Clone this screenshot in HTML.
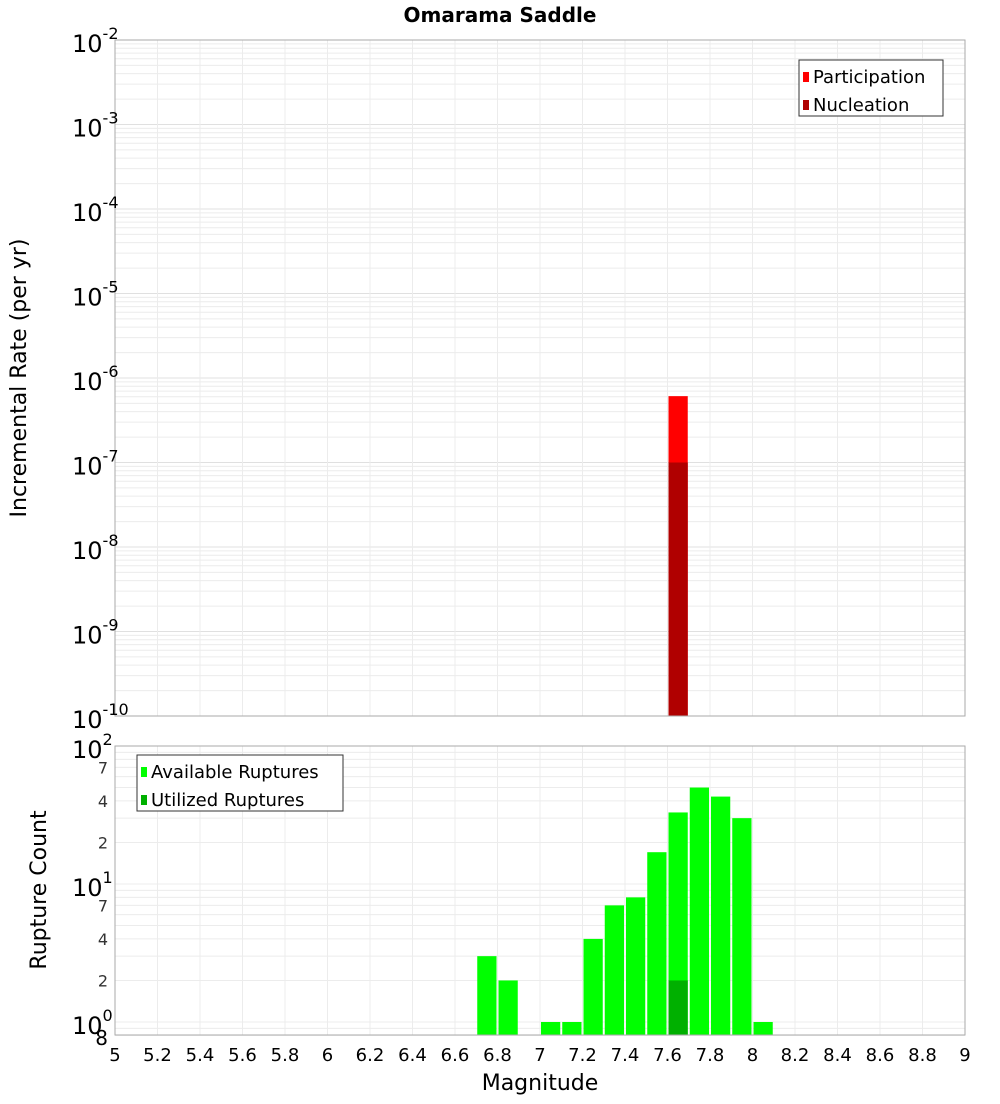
<!DOCTYPE html>
<html><head><meta charset="utf-8"><style>
body{margin:0;background:#fff;width:1000px;height:1100px;overflow:hidden;font-family:"DejaVu Sans","Liberation Sans",sans-serif}
</style></head><body>
<svg id="chart" width="1000" height="1100" xmlns="http://www.w3.org/2000/svg" font-family="DejaVu Sans, Liberation Sans, sans-serif">
<text x="500" y="22" text-anchor="middle" font-size="20" font-weight="bold">Omarama Saddle</text>
<g id="topplot"></g><g id="botplot"></g>
<text transform="translate(26,378) rotate(-90)" text-anchor="middle" font-size="22">Incremental Rate (per yr)</text>
<text transform="translate(46,890) rotate(-90)" text-anchor="middle" font-size="22">Rupture Count</text>
<text x="540" y="1090" text-anchor="middle" font-size="22">Magnitude</text>
</svg>
<script>
const binStarts=[6.7,6.8,6.9,7.0,7.1,7.2,7.3,7.4,7.5,7.6,7.7,7.8,7.9,8.0];
const available=[3,2,0,1,1,4,7,8,17,33,50,43,30,1];
const utilized=[0,0,0,0,0,0,0,0,0,2,0,0,0,0];
const rateBins=[7.6];
const participation=[6.1e-7];
const nucleation=[1.0e-7];
const xTicks=[5,5.2,5.4,5.6,5.8,6,6.2,6.4,6.6,6.8,7,7.2,7.4,7.6,7.8,8,8.2,8.4,8.6,8.8,9];
const topDecades=[-2,-3,-4,-5,-6,-7,-8,-9,-10];
const botMinorLabels=[2,4,7,20,40,70];

const NS="http://www.w3.org/2000/svg";
const L=115,R=965;
const X=m=>L+(m-5)/4*(R-L);
const T0=40,T1=716;
const YT=v=>T0+(-2-Math.log10(v))/8*(T1-T0);
const B0=746,B1=1035;
const YB=v=>B0+(2-Math.log10(v))*138;
function el(p,t,a){const e=document.createElementNS(NS,t);for(const k in a)e.setAttribute(k,a[k]);p.appendChild(e);return e;}
const topG=document.getElementById('topplot'),botG=document.getElementById('botplot');

for(let d=-10;d<-2;d++){for(let k=1;k<10;k++){const y=YT(k*Math.pow(10,d));
const g=el(topG,'line',{x1:L,x2:R,y1:y,y2:y,stroke:k==1?'#e0e0e0':'#ececec','stroke-width':1});

}}
xTicks.forEach(m=>{[topG,botG].forEach((p,i)=>{const g=el(p,'line',{x1:X(m),x2:X(m),y1:i?B0:T0,y2:i?B1:T1,stroke:'#ececec'});

});});
for(let d=-1;d<2;d++){for(let k=1;k<10;k++){const v=k*Math.pow(10,d);if(v<0.8)continue;const y=YB(v);
const g=el(botG,'line',{x1:L,x2:R,y1:y,y2:y,stroke:'#ececec'});

}}

rateBins.forEach((b,i)=>{
const p=el(topG,'rect',{x:X(b)+1,width:X(b+0.1)-X(b)-2,y:YT(participation[i]),height:T1-YT(participation[i]),fill:'#ff0000'});


const n=el(topG,'rect',{x:X(b)+1,width:X(b+0.1)-X(b)-2,y:YT(nucleation[i]),height:T1-YT(nucleation[i]),fill:'#b00000'});


});
binStarts.forEach((b,i)=>{
if(available[i]>0){const y=Math.min(YB(available[i]),B1);
const r=el(botG,'rect',{x:X(b)+1,width:X(b+0.1)-X(b)-2,y:y,height:B1-y,fill:'#00ff00'});

}
if(utilized[i]>0){const y=YB(utilized[i]);
const r=el(botG,'rect',{x:X(b)+1,width:X(b+0.1)-X(b)-2,y:y,height:B1-y,fill:'#00b000'});

}
});
[[topG,T0,T1],[botG,B0,B1]].forEach(([p,a,b])=>{const f=el(p,'rect',{x:L,y:a,width:R-L,height:b-a,fill:'none',stroke:'#aaaaaa'});

});

topDecades.forEach(d=>{const y=YT(Math.pow(10,d));
const t=el(topG,'text',{x:72,y:y+12,'font-size':24});


t.textContent='10';const s=el(t,'tspan',{dy:-13,'font-size':16});s.textContent=String(d);});
[2,1,0].forEach(d=>{const y=YB(Math.pow(10,d));
const t=el(botG,'text',{x:72,y:y+12,'font-size':24});


t.textContent='10';const s=el(t,'tspan',{dy:-13,'font-size':16});s.textContent=String(d);});
botMinorLabels.forEach(v=>{const t=el(botG,'text',{x:108,y:YB(v)+6,'font-size':16,'text-anchor':'end',fill:'#333'});


t.textContent=String(v>=10?v/10:v);});
{const t=el(botG,'text',{x:108,y:B1+10,'font-size':20,'text-anchor':'end'});


t.textContent='8';}
xTicks.forEach(m=>{const t=el(botG,'text',{x:X(m),y:1061,'font-size':18,'text-anchor':'middle'});


t.textContent=String(m);});

function legend(p,x,y,w,items,name){const g=el(p,'g',{});


el(g,'rect',{x:x,y:y,width:w,height:56,fill:'#fff',stroke:'#333'});
items.forEach((it,i)=>{el(g,'rect',{x:x+4,y:y+12+i*28,width:6,height:10,fill:it[1]});
const t=el(g,'text',{x:x+14,y:y+23+i*28,'font-size':18});t.textContent=it[0];});}
legend(topG,799,60,144,[['Participation','#ff0000'],['Nucleation','#b00000']],'top-legend');
legend(botG,137,755,206,[['Available Ruptures','#00ff00'],['Utilized Ruptures','#00b000']],'bottom-legend');
</script>
</body></html>
